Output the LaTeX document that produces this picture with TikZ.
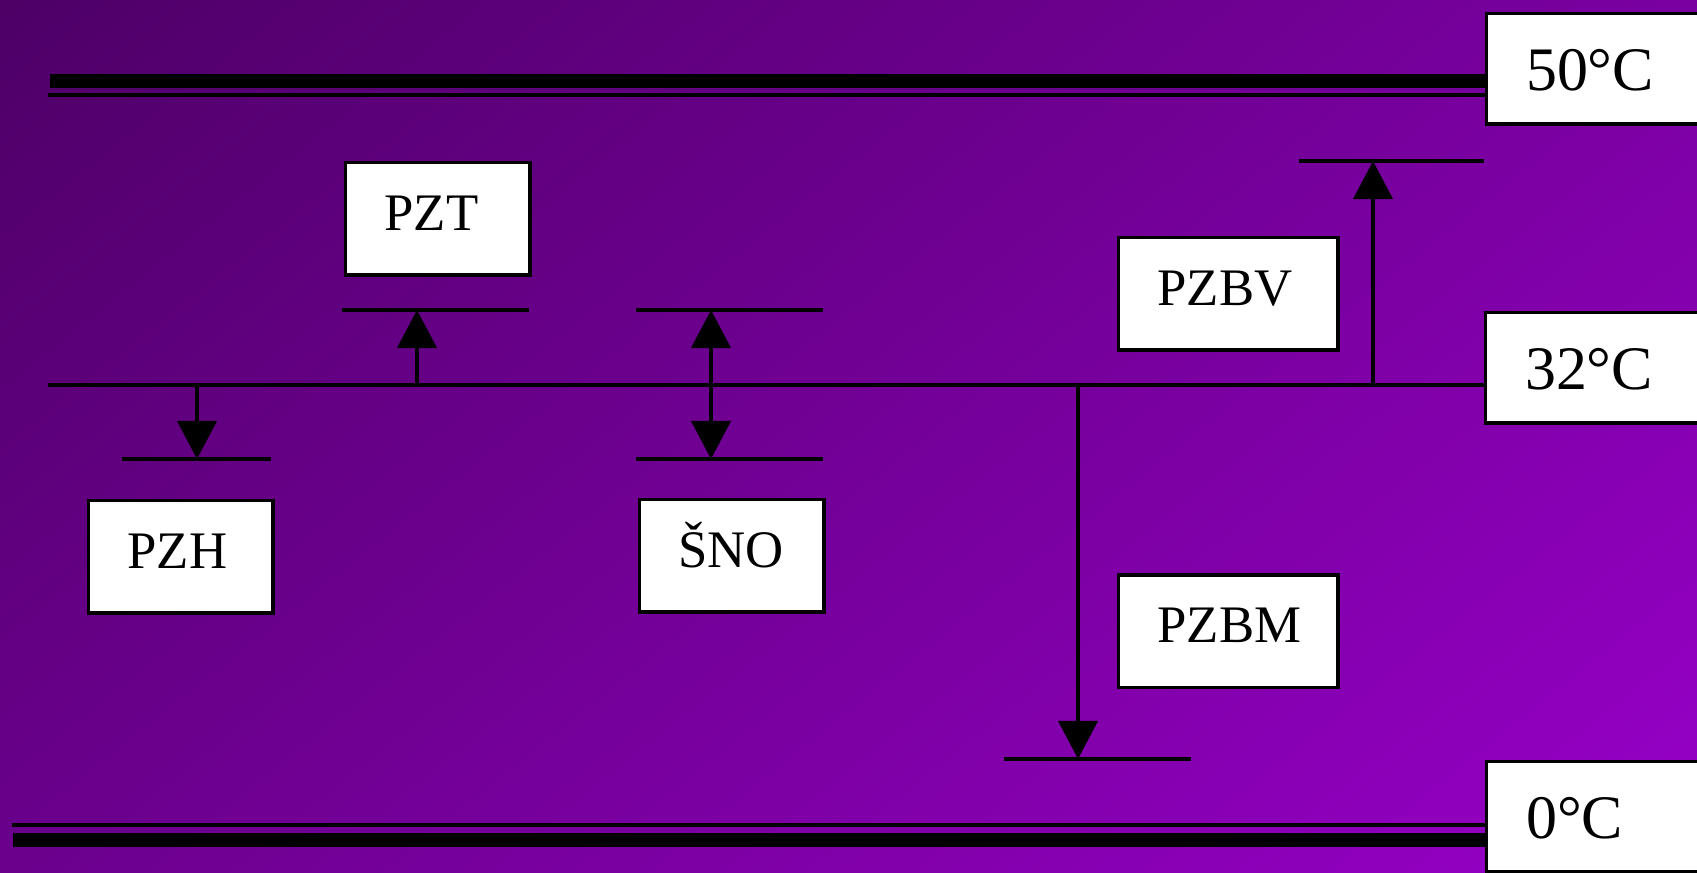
\documentclass[tikz,border=0pt]{standalone}
\usepackage{fontspec}
\setmainfont{Liberation Serif}
\usetikzlibrary{arrows.meta}
\pgfdeclarefunctionalshading{bgshade}{\pgfpointorigin}{\pgfpoint{489.04bp}{255.47bp}}{}{
  2 copy
  -0.000457 mul exch 0.000365 mul add 0.41797 add
  3 1 roll
  -0.000603 mul exch 0.000482 mul add 0.55168 add
  0 exch
}
\tikzset{
  box/.style={draw=black, fill=white, line width=1pt, anchor=north west, align=left,
    inner ysep=0pt, inner xsep=0.39cm, text height=0.68cm, text depth=0.445cm,
    font=\fontsize{15}{18}\selectfont},
  smallbox/.style={box, text width=1.065cm},
  widebox/.style={box, text width=1.415cm},
  tempbox/.style={box, inner xsep=0.395cm, text width=2.4cm, text height=0.7725cm,
    text depth=0.3325cm, font=\fontsize{17.6}{21}\selectfont},
  bar/.style={line width=1.14pt},
  midline/.style={line width=1pt},
  heavy/.style={line width=3.98pt},
  arr/.style={line width=1.14pt, -{Triangle[length=0.38cm, width=0.39cm]}},
  darr/.style={line width=1.14pt, {Triangle[length=0.38cm, width=0.39cm]}-{Triangle[length=0.38cm, width=0.39cm]}},
}
\begin{document}
\begin{tikzpicture}[x=0.01cm, y=-0.01cm]
\useasboundingbox (0,0) rectangle (1697,873);
\node[inner sep=0pt, anchor=south west] (bg) at (-14.11,887.11) {\pgfuseshading{bgshade}};

% temperature boxes
\node[tempbox] (t50) at (1484.75,11.75) {50°C};
\node[tempbox] (t32) at (1483.75,310.75) {32°C};
\node[tempbox] (t0) at (1484.75,759.75) {0°C};

% level lines
\coordinate (hiA) at (50,81);
\coordinate (hiB) at (48,95);
\coordinate (midA) at (48,385);
\coordinate (loA) at (12,825);
\coordinate (loB) at (13,840);
\draw[heavy] (hiA) -- (hiA -| t50.west);
\draw[bar] (hiB) -- (hiB -| t50.west);
\draw[midline] (midA) -- (midA -| t32.west);
\draw[bar] (loA) -- (loA -| t0.west);
\draw[heavy] (loB) -- (loB -| t0.west);

% bars
\coordinate (pztL) at (342,310); \coordinate (pztR) at (529,310);
\coordinate (pzhL) at (122,459); \coordinate (pzhR) at (271,459);
\coordinate (snoTL) at (636,310); \coordinate (snoTR) at (823,310);
\coordinate (snoBL) at (636,459); \coordinate (snoBR) at (823,459);
\coordinate (pzbmL) at (1004,759); \coordinate (pzbmR) at (1191,759);
\coordinate (pzbvL) at (1299,161); \coordinate (pzbvR) at (1484,161);
\draw[bar] (pztL) -- (pztR);
\draw[bar] (pzhL) -- (pzhR);
\draw[bar] (snoTL) -- (snoTR);
\draw[bar] (snoBL) -- (snoBR);
\draw[bar] (pzbmL) -- (pzbmR);
\draw[bar] (pzbvL) -- (pzbvR);

% arrows
\coordinate (pztF) at (417,385); \coordinate (pztT) at (417,310);
\coordinate (pzhF) at (197,385); \coordinate (pzhT) at (197,459);
\coordinate (snoT) at (711,310); \coordinate (snoB) at (711,459);
\coordinate (pzbmF) at (1078,385); \coordinate (pzbmT) at (1078,759);
\coordinate (pzbvF) at (1373,385); \coordinate (pzbvT) at (1373,161);
\draw[arr] (pztF) -- (pztT);
\draw[arr] (pzhF) -- (pzhT);
\draw[darr] (snoB) -- (snoT);
\draw[arr] (pzbmF) -- (pzbmT);
\draw[arr] (pzbvF) -- (pzbvT);

% process boxes
\node[smallbox] (pzt) at (343.75,160.75) {PZT};
\node[smallbox] (pzh) at (86.75,498.75) {PZH};
\node[smallbox] (sno) at (637.75,497.75) {ŠNO};
\node[widebox] (pzbv) at (1116.75,235.75) {PZBV};
\node[widebox] (pzbm) at (1116.75,573) {PZBM};
\end{tikzpicture}
\end{document}
